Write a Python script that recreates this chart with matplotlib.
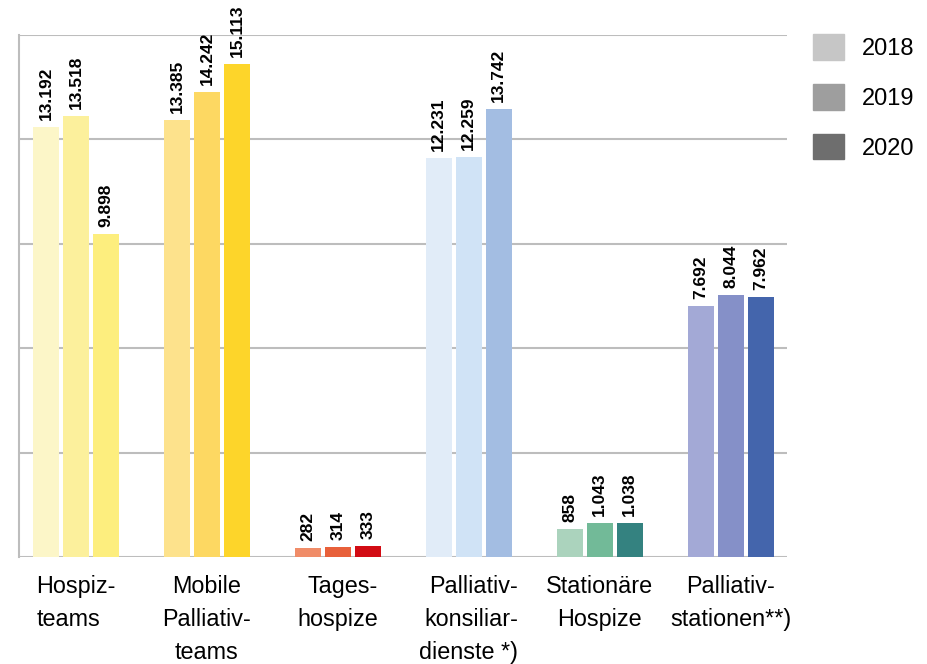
import matplotlib.pyplot as plt
import numpy as np

plt.rcParams['font.family'] = ['Liberation Sans', 'DejaVu Sans']

categories = ['Hospiz-\nteams', 'Mobile\nPalliativ-\nteams', 'Tages-\nhospize',
              'Palliativ-\nkonsiliar-\ndienste *)', 'Stationäre\nHospize',
              'Palliativ-\nstationen**)']
years = ['2018', '2019', '2020']
v2018 = [13192, 13385, 282, 12231, 858, 7692]
v2019 = [13518, 14242, 314, 12259, 1043, 8044]
v2020 = [9898, 15113, 333, 13742, 1038, 7962]

# one colour ramp per group (2018, 2019, 2020)
group_colors = [
    ['#fcf6c8', '#fcf09c', '#fdee7e'],
    ['#fde28c', '#fdd862', '#fdd52a'],
    ['#f08c68', '#e8603a', '#d20c14'],
    ['#e1ecf8', '#d0e3f6', '#a3bde2'],
    ['#abd3bd', '#72ba98', '#348280'],
    ['#a3a9d6', '#8590c8', '#4465ac'],
]
legend_colors = ['#c6c6c6', '#9e9e9e', '#6e6e6e']
label_align = ['left', 'center', 'right', 'right', 'center', 'center']

fig = plt.figure(figsize=(9.27, 6.64), dpi=100)
ax = fig.add_axes([19/927, 107/664, (787-19)/927, (557-35)/664])

x = np.arange(len(categories))
w = 0.198
step = 0.229
series = [v2018, v2019, v2020]
for k, vals in enumerate(series):
    cols = [gc[k] for gc in group_colors]
    bars = ax.bar(x + (k - 1) * step, vals, w, color=cols, zorder=3)
    for b, v in zip(bars, vals):
        ax.annotate(f'{v:,}'.replace(',', '.'),
                    (b.get_x() + b.get_width() / 2, b.get_height()),
                    xytext=(0, 5), textcoords='offset points',
                    rotation=90, ha='center', va='bottom',
                    fontsize=12.5, fontweight='bold', zorder=4)

ax.set_xlim(-0.435, 5.43)
ax.set_ylim(0, 16000)
ax.set_yticks(np.arange(0, 16001, 3200))
ax.yaxis.grid(True, color='#bdbdbd', linewidth=1.5, zorder=0)
ax.set_yticklabels([])
ax.tick_params(length=0)
ax.set_xticks([])
for s in ['top', 'right', 'bottom']:
    ax.spines[s].set_visible(False)
ax.spines['left'].set_color('#bdbdbd')
ax.spines['left'].set_linewidth(1.5)

for xi, lab, al in zip(x, categories, label_align):
    ax.annotate(lab, (xi, 0), xytext=(0, -13), textcoords='offset points',
                ha='center', va='top', multialignment=al,
                fontsize=16.8, linespacing=1.55, annotation_clip=False)

handles = [plt.Rectangle((0, 0), 1, 1, color=c) for c in legend_colors]
fig.legend(handles, years, loc='upper left', bbox_to_anchor=(813/927, 630/664),
           frameon=False, fontsize=17, borderpad=0, borderaxespad=0,
           handlelength=1.31, handleheight=1.3, handletextpad=0.76,
           labelspacing=1.02)

fig.savefig('out.png', dpi=100)
